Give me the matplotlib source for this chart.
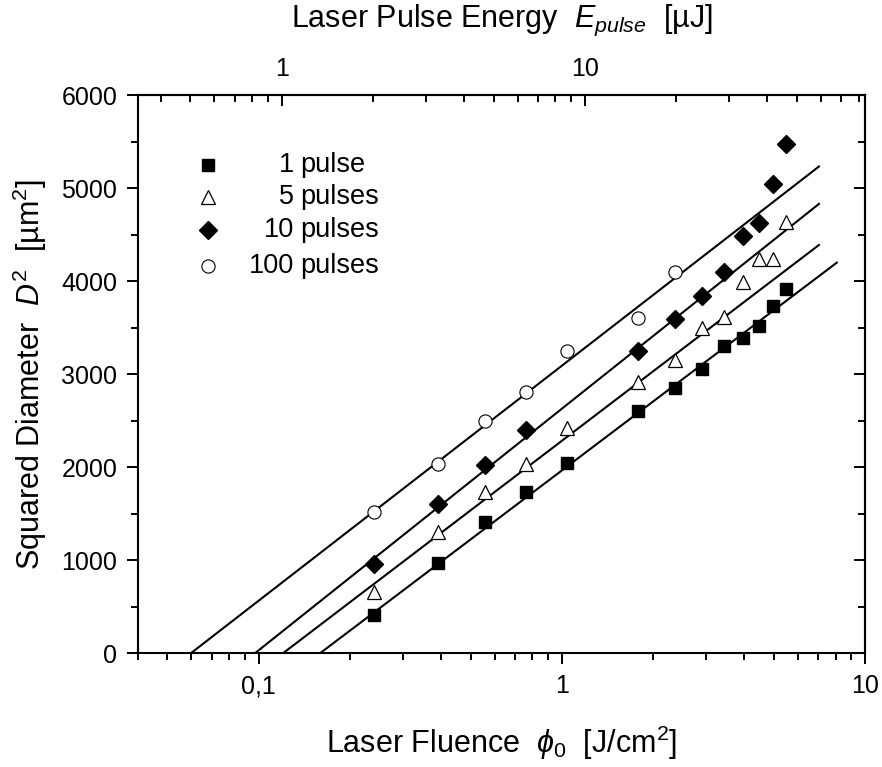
#!/usr/bin/env python3

'''
Squared crater diameter vs. laser fluence (log scale) with linear fits.
'''

import numpy as np
import matplotlib.pyplot as plt
from matplotlib.ticker import (FixedLocator, FuncFormatter, LogLocator,
                               MultipleLocator, NullFormatter)

plt.rcParams['font.family'] = ['Liberation Sans', 'DejaVu Sans']
plt.rcParams['mathtext.fontset'] = 'custom'
plt.rcParams['mathtext.rm'] = 'Liberation Sans'
plt.rcParams['mathtext.it'] = 'Liberation Sans:italic'

# measured data, fluence in J/cm^2, D^2 in um^2
fluence = [0.24, 0.39, 0.56, 0.76, 1.04, 1.79, 2.37, 2.91, 3.43, 3.97,
           4.48, 4.98, 5.50]
d2_1 = [414, 969, 1416, 1738, 2050, 2605, 2852, 3056, 3300, 3386, 3522,
        3733, 3916]
d2_5 = [664, 1308, 1738, 2036, 2419, 2920, 3153, 3494, 3618, 3988, 4238,
        4238, 4639]
fluence_10 = [0.24, 0.39, 0.56, 0.76, 1.79, 2.37, 2.91, 3.43, 3.97, 4.48,
              4.98, 5.50]
d2_10 = [958, 1603, 2025, 2401, 3250, 3597, 3846, 4095, 4488, 4622, 5041,
         5474]
fluence_100 = [0.24, 0.39, 0.56, 0.76, 1.04, 1.79, 2.37]
d2_100 = [1523, 2033, 2498, 2813, 3250, 3601, 4095]

# fits D^2 = s * log10(phi / phi_th)
pulses = [1, 5, 10, 100]
fit_threshold = [0.159, 0.120, 0.097, 0.0596]
fit_slope = [2462, 2481, 2595, 2524]
fit_end = [8.07, 7.05, 7.05, 7.05]

energy_per_fluence = 8.4  # uJ per J/cm^2

fig = plt.figure(figsize=(8.82, 7.67), dpi=100)
ax = fig.add_axes([0.1565, 0.148, 0.8242, 0.7281])

mkw = dict(color='k', linestyle='none')
series = [
    (fluence, d2_1, dict(marker='s', ms=8.5, mfc='k', mec='k')),
    (fluence, d2_5, dict(marker='^', ms=10.5, mfc='w', mec='k', mew=0.9)),
    (fluence_10, d2_10, dict(marker='D', ms=9, mfc='k', mec='k')),
    (fluence_100, d2_100, dict(marker='o', ms=9.5, mfc='w', mec='k', mew=0.8)),
]

for th, s, end in zip(fit_threshold, fit_slope, fit_end):
    xf = np.logspace(np.log10(th), np.log10(end), 50)
    ax.plot(xf, s * np.log10(xf / th), color='k', lw=1.5, zorder=2)

for x, y, st in series:
    ax.plot(x, y, zorder=3, **mkw, **st)

ax.set_xscale('log')
ax.set_xlim(0.04, 10)
ax.set_ylim(0, 6000)

ax.xaxis.set_major_locator(FixedLocator([0.1, 1, 10]))
ax.xaxis.set_major_formatter(FuncFormatter(
    lambda v, p: '{:g}'.format(v).replace('.', ',')))
ax.xaxis.set_minor_locator(LogLocator(base=10, subs=np.arange(2, 10)))
ax.xaxis.set_minor_formatter(NullFormatter())
ax.yaxis.set_major_locator(MultipleLocator(1000))
ax.yaxis.set_minor_locator(MultipleLocator(500))

ax.tick_params(which='both', direction='out', top=False, right=False,
               labelsize=18, width=1.4)
ax.tick_params(which='major', length=8, pad=7)
ax.tick_params(which='minor', length=5)
for sp in ax.spines.values():
    sp.set_linewidth(1.5)

sec_y = ax.secondary_yaxis('right')
sec_y.yaxis.set_major_locator(MultipleLocator(1000))
sec_y.yaxis.set_minor_locator(MultipleLocator(500))
sec_y.tick_params(which='both', direction='in', labelright=False, width=1.4)
sec_y.tick_params(which='major', length=8)
sec_y.tick_params(which='minor', length=5)
sec_y.spines['right'].set_linewidth(1.5)

sec_x = ax.secondary_xaxis('top', functions=(
    lambda f: f * energy_per_fluence, lambda e: e / energy_per_fluence))
sec_x.xaxis.set_major_locator(FixedLocator([1, 10]))
sec_x.xaxis.set_major_formatter(FuncFormatter(lambda v, p: '{:g}'.format(v)))
sec_x.xaxis.set_minor_locator(LogLocator(base=10, subs=np.arange(2, 10)))
sec_x.xaxis.set_minor_formatter(NullFormatter())
sec_x.tick_params(which='both', direction='in', labelsize=18, width=1.4)
sec_x.tick_params(which='major', length=8, pad=10)
sec_x.tick_params(which='minor', length=5)
sec_x.spines['top'].set_linewidth(1.5)

ax.set_xlabel(r'Laser Fluence  $\phi_{\mathit{0}}$  [J/cm$^{2}$]',
              fontsize=22, labelpad=18)
ax.set_ylabel(r'Squared Diameter  $D^{2}$  [µm$^{2}$]', fontsize=22,
              labelpad=9)
sec_x.set_xlabel(r'Laser Pulse Energy  $E_{pulse}$  [µJ]', fontsize=22,
                 labelpad=22)

# legend: marker, right-aligned count, word
leg_y = [0.875, 0.818, 0.758, 0.693]
for (x, y, st), n, ly in zip(series, pulses, leg_y):
    ax.plot([0.096], [ly], transform=ax.transAxes, **mkw, **st)
    ax.text(0.2146, ly, str(n), transform=ax.transAxes, fontsize=19.5,
            ha='right', va='center')
    ax.text(0.2235, ly, 'pulse' if n == 1 else 'pulses',
            transform=ax.transAxes, fontsize=19.5, ha='left', va='center')

fig.savefig('out.png', dpi=100)
